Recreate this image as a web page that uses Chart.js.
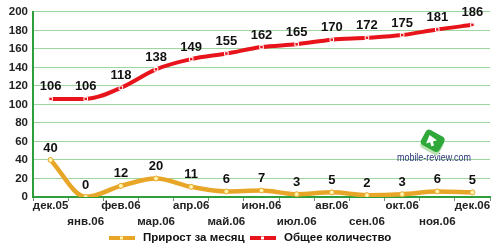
<!DOCTYPE html>
<html><head><meta charset="utf-8">
<script src="https://cdn.jsdelivr.net/npm/chart.js@4/dist/chart.umd.min.js"></script>
<style>html,body{margin:0;padding:0;background:#fff}#wrap{width:500px;height:250px}</style>
</head><body><div id="wrap"><canvas id="c" width="500" height="250"></canvas></div>
<script>
const categories = ['дек.05','янв.06','фев.06','мар.06','апр.06','май.06','июн.06','июл.06','авг.06','сен.06','окт.06','ноя.06','дек.06'];
const growthLabel = 'Прирост за месяц';
const totalLabel = 'Общее количество';
const growth = [40,0,12,20,11,6,7,3,5,2,3,6,5];
const total = [106,106,118,138,149,155,162,165,170,172,175,181,186];
const watermark = 'mobile-review.com';

const FONT = '"Liberation Sans", Arial, sans-serif';

const valueLabels = {
  id: 'valueLabels',
  afterDatasetsDraw(chart) {
    const ctx = chart.ctx;
    ctx.save();
    ctx.font = 'bold 13px ' + FONT;
    ctx.fillStyle = '#111';
    ctx.textAlign = 'center';
    ctx.textBaseline = 'middle';
    chart.data.datasets.forEach((ds, i) => {
      chart.getDatasetMeta(i).data.forEach((pt, j) => {
        ctx.fillText(String(ds.data[j]), pt.x, pt.y - 12);
      });
    });
    ctx.restore();
  }
};

const decor = {
  id: 'decor',
  beforeDatasetsDraw(chart) {
    const ctx = chart.ctx;
    ctx.save();
    ctx.translate(432, 141);
    ctx.rotate(0.5);
    ctx.fillStyle = '#b8e0b0';
    ctx.beginPath(); ctx.roundRect(-9, -6, 21, 17, 4); ctx.fill();
    ctx.fillStyle = '#2fa83a';
    ctx.beginPath(); ctx.roundRect(-10, -9, 21, 17, 4); ctx.fill();
    ctx.fillStyle = '#fff';
    ctx.beginPath(); ctx.moveTo(-5,-4); ctx.lineTo(4,-3); ctx.lineTo(1,0); ctx.lineTo(4,3); ctx.lineTo(2,5); ctx.lineTo(-1,2); ctx.lineTo(-4,5); ctx.closePath(); ctx.fill();
    ctx.restore();
    ctx.save();
    ctx.font = '11.5px ' + FONT;
    const w = ctx.measureText(watermark).width;
    ctx.translate(434, 158);
    ctx.scale(74 / w, 1);
    ctx.fillStyle = '#2a3576';
    ctx.textAlign = 'center';
    ctx.textBaseline = 'middle';
    ctx.fillText(watermark, 0, 0);
    ctx.restore();
  },
  afterDraw(chart) {
    const ctx = chart.ctx;
    ctx.save();
    const y = 238;
    const items = [
      {x: 109, color: '#e8a628', pt: '#fff3b0', label: chart.data.datasets[0].label},
      {x: 250, color: '#e8141c', pt: '#ffffff', label: chart.data.datasets[1].label}
    ];
    items.forEach(it => {
      ctx.strokeStyle = it.color; ctx.lineWidth = 4;
      ctx.beginPath(); ctx.moveTo(it.x, y); ctx.lineTo(it.x + 26, y); ctx.stroke();
      ctx.fillStyle = it.pt;
      ctx.fillRect(it.x + 11, y - 1.5, 3, 3);
      ctx.font = 'bold 11.5px ' + FONT;
      ctx.fillStyle = '#111';
      ctx.textAlign = 'left'; ctx.textBaseline = 'middle';
      ctx.fillText(it.label, it.x + 34, y);
    });
    ctx.restore();
  }
};

new Chart(document.getElementById('c'), {
  type: 'line',
  data: {
    labels: categories,
    datasets: [
      {label: growthLabel, data: growth, borderColor: '#e8a628', borderWidth: 4.5,
       pointStyle: 'circle', pointRadius: 2.5, pointBackgroundColor: '#fff3b0', pointBorderColor: '#e8a628', pointBorderWidth: 1,
       cubicInterpolationMode: 'monotone'},
      {label: totalLabel, data: total, borderColor: '#e8141c', borderWidth: 4,
       pointStyle: 'rect', pointRadius: 2.5, pointBackgroundColor: '#e8141c', pointBorderColor: '#ffffff', pointBorderWidth: 1,
       cubicInterpolationMode: 'monotone'}
    ]
  },
  options: {
    responsive: false, animation: false, devicePixelRatio: 1,
    layout: {padding: {top: 10, right: 10, bottom: 22, left: 0}},
    plugins: {legend: {display: false}, tooltip: {enabled: false}},
    scales: {
      x: {
        offset: true,
        afterFit(s) { s.height = 31; },
        border: {color: '#2e9e3a', width: 2},
        grid: {drawOnChartArea: false, drawTicks: true, tickLength: 4, color: '#6a9a6a', offset: true},
        ticks: {
          autoSkip: false, maxRotation: 0, minRotation: 0, padding: -3, color: '#222',
          font: {family: FONT, size: 11.5, weight: 'bold', lineHeight: '16px'},
          callback(v, i) { return i % 2 === 0 ? [categories[i], ''] : ['', categories[i]]; }
        }
      },
      y: {
        min: 0, max: 200,
        afterFit(s) { s.width = 33; },
        border: {color: '#2e9e3a', width: 2},
        grid: {color: '#9fd59f', lineWidth: 1, drawTicks: false},
        ticks: {stepSize: 20, padding: 5, color: '#222', font: {family: FONT, size: 11.5, weight: 'bold'}}
      }
    }
  },
  plugins: [decor, valueLabels]
});
</script></body></html>
